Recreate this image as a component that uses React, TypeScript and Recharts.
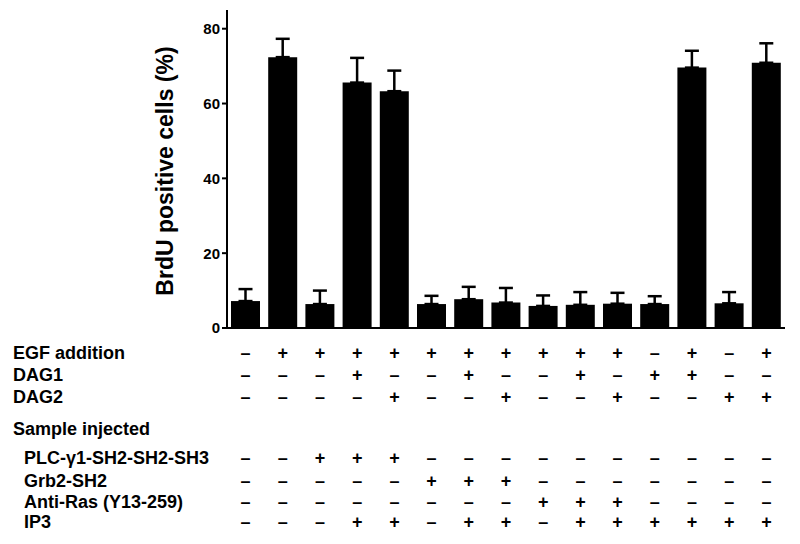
import React from 'react';
import { ComposedChart, Bar, ErrorBar, XAxis, YAxis } from 'recharts';

const conditions = ['1', '2', '3', '4', '5', '6', '7', '8', '9', '10', '11', '12', '13', '14', '15'];
const brduValues = [7.2, 72.4, 6.4, 65.6, 63.3, 6.4, 7.7, 6.8, 5.9, 6.2, 6.5, 6.4, 69.6, 6.6, 70.9];
const brduErrors = [3.2, 4.9, 3.6, 6.6, 5.5, 2.2, 3.3, 3.9, 2.8, 3.4, 2.9, 2.1, 4.5, 3.0, 5.2];
const yTicks = [0, 20, 40, 60, 80];

const egfAddition = ['-', '+', '+', '+', '+', '+', '+', '+', '+', '+', '+', '-', '+', '-', '+'];
const dag1 = ['-', '-', '-', '+', '-', '-', '+', '-', '-', '+', '-', '+', '+', '-', '-'];
const dag2 = ['-', '-', '-', '-', '+', '-', '-', '+', '-', '-', '+', '-', '-', '+', '+'];
const plcSh = ['-', '-', '+', '+', '+', '-', '-', '-', '-', '-', '-', '-', '-', '-', '-'];
const grb2Sh2 = ['-', '-', '-', '-', '-', '+', '+', '+', '-', '-', '-', '-', '-', '-', '-'];
const antiRas = ['-', '-', '-', '-', '-', '-', '-', '-', '+', '+', '+', '-', '-', '-', '-'];
const ip3 = ['-', '-', '-', '+', '+', '-', '+', '+', '-', '+', '+', '+', '+', '+', '+'];

const tableRows = [
  { label: 'EGF addition', signs: egfAddition, dy: 25, indent: false },
  { label: 'DAG1', signs: dag1, dy: 47, indent: false },
  { label: 'DAG2', signs: dag2, dy: 69, indent: false },
  { label: 'Sample injected', signs: null, dy: 101, indent: false },
  { label: 'PLC-\u03b31-SH2-SH2-SH3', signs: plcSh, dy: 130, indent: true },
  { label: 'Grb2-SH2', signs: grb2Sh2, dy: 153, indent: true },
  { label: 'Anti-Ras (Y13-259)', signs: antiRas, dy: 174, indent: true },
  { label: 'IP3', signs: ip3, dy: 194, indent: true },
];

const data = conditions.map((c, i) => ({
  cat: c,
  value: brduValues[i],
  err: [0, brduErrors[i]],
}));

const FONT = '"Liberation Sans", Arial, sans-serif';

const TableTick = (props: any) => {
  const { x, y, payload } = props;
  const idx = payload && payload.index != null ? payload.index : props.index;
  return (
    <g>
      {idx === 0 &&
        tableRows.map((r) => (
          <text
            key={'l' + r.label}
            x={r.indent ? 24 : 13}
            y={y + r.dy}
            dominantBaseline="central"
            fontFamily={FONT}
            fontWeight="bold"
            fontSize={18}
            fill="#000"
          >
            {r.label}
          </text>
        ))}
      {tableRows.map((r) =>
        r.signs ? (
          <text
            key={'s' + r.label}
            x={x}
            y={y + r.dy}
            textAnchor="middle"
            dominantBaseline="central"
            fontFamily={FONT}
            fontWeight="bold"
            fontSize={18}
            fill="#000"
          >
            {r.signs[idx] === '+' ? '+' : '\u2013'}
          </text>
        ) : null
      )}
    </g>
  );
};

const YLabel = (props: any) => {
  const vb = props.viewBox || { x: 0, y: 10, width: 227, height: 318 };
  const cx = vb.x + vb.width - 62;
  const cy = vb.y + vb.height / 2 + 2;
  return (
    <text
      x={cx}
      y={cy}
      transform={`rotate(-90, ${cx}, ${cy})`}
      textAnchor="middle"
      dominantBaseline="central"
      fontFamily={FONT}
      fontWeight="bold"
      fontSize={23}
      fill="#000"
    >
      BrdU positive cells (%)
    </text>
  );
};

export default function App() {
  return (
    <div style={{ position: 'absolute', left: 0, top: 0, width: 800, height: 544, background: '#fff' }}>
      <ComposedChart
        width={800}
        height={544}
        data={data}
        margin={{ top: 10, right: 15, left: 0, bottom: 0 }}
      >
        <XAxis
          xAxisId="bottom"
          dataKey="cat"
          orientation="bottom"
          height={216}
          axisLine={{ stroke: '#000', strokeWidth: 2 }}
          tickLine={false}
          tickSize={0}
          tickMargin={0}
          interval={0}
          tick={<TableTick />}
        />
        <XAxis
          xAxisId="top"
          dataKey="cat"
          orientation="top"
          height={0}
          axisLine={{ stroke: '#000', strokeWidth: 2 }}
          tickLine={false}
          tick={false}
        />
        <YAxis
          yAxisId="left"
          width={227}
          domain={[0, 85]}
          ticks={yTicks}
          axisLine={{ stroke: '#000', strokeWidth: 2 }}
          tickLine={{ stroke: '#000', strokeWidth: 2 }}
          tickSize={5}
          tickMargin={2}
          tick={{ fill: '#000', fontFamily: FONT, fontWeight: 'bold', fontSize: 15 }}
          label={<YLabel />}
        />
        <YAxis
          yAxisId="right"
          orientation="right"
          width={0}
          domain={[0, 85]}
          axisLine={{ stroke: '#000', strokeWidth: 2 }}
          tickLine={false}
          tick={false}
        />
        <Bar
          dataKey="value"
          xAxisId="bottom"
          yAxisId="left"
          fill="#000"
          barSize={29}
          isAnimationActive={false}
        >
          <ErrorBar dataKey="err" direction="y" width={7} stroke="#000" strokeWidth={2.5} isAnimationActive={false} />
        </Bar>
      </ComposedChart>
    </div>
  );
}
